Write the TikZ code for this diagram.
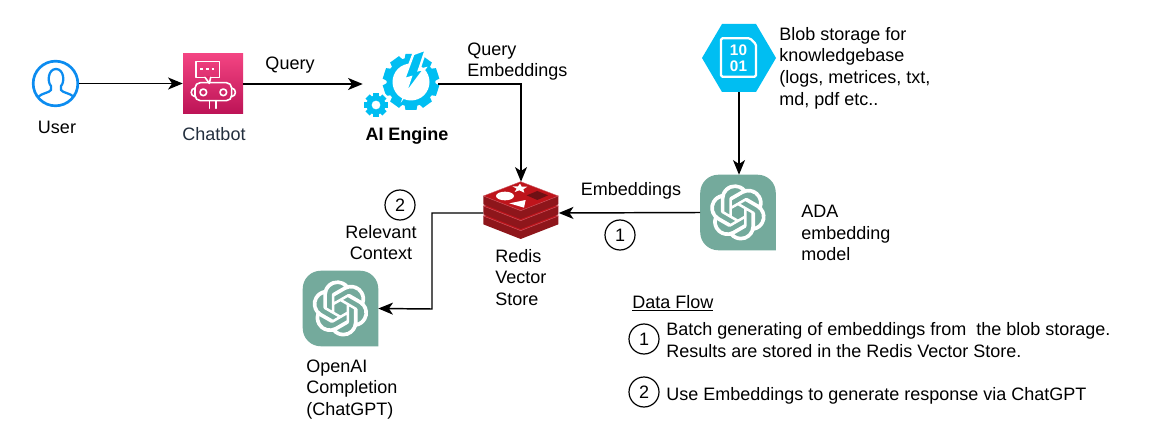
\documentclass[tikz,border=0pt]{standalone}
\usepackage{fontspec}
\setmainfont{Liberation Sans}
\usetikzlibrary{arrows.meta,calc,svg.path}
\definecolor{gptgreen}{HTML}{74AA9C}
\definecolor{azurecyan}{HTML}{00BEF2}
\definecolor{userblue}{HTML}{0C8CF0}
\definecolor{botlabel}{HTML}{232F3E}
\definecolor{redistop}{HTML}{BE141B}
\definecolor{redisside}{HTML}{8E161B}
\definecolor{redisline}{HTML}{D0606A}
\definecolor{redisdark}{HTML}{6E1014}
\definecolor{bottop}{HTML}{F34482}
\definecolor{botbottom}{HTML}{BC1356}
\definecolor{botmid}{HTML}{DC2869}
\tikzset{
  x=0.75pt,y=-0.75pt,
  txt/.style={font=\fontsize{13.5}{16.3}\selectfont,inner sep=0pt,align=left,text=black},
  conn/.style={draw=black,line width=1.1pt,-{Stealth[length=11pt,width=9pt,inset=3pt]}},
  numcircle/.style={circle,draw=black,line width=0.9pt,minimum size=22.5pt,inner sep=0pt,font=\fontsize{13.5}{14}\selectfont},
  iconbox/.style={inner sep=0pt,minimum width=#1*0.75pt,minimum height=#1*0.75pt},
  whitestroke/.style={draw=white,line width=1.2pt,line join=round,line cap=round},
}
\newcommand{\gptlogo}[3]{% box centre x, y, name
  \node[iconbox=75] (#3) at (#1,#2) {};
  \fill[gptgreen] (#3.south east) -- ($(#3.north east)+(0,18)$) arc[start angle=0,end angle=-90,radius=18] -- ($(#3.north west)+(18,0)$) arc[start angle=-90,end angle=-180,radius=18] -- ($(#3.south west)+(0,-18)$) arc[start angle=180,end angle=90,radius=18] -- cycle;
  \begin{scope}[shift={(#1,#2)},scale=1.755,yscale=-1,shift={(-12bp,-12bp)}]
    \fill[white,even odd rule] svg {M 22.2819 9.8211 a 5.9847 5.9847 0 0 0 -0.5157 -4.9108 a 6.0462 6.0462 0 0 0 -6.5098 -2.9 A 6.0651 6.0651 0 0 0 4.9807 4.1818 a 5.9847 5.9847 0 0 0 -3.9977 2.9 a 6.0462 6.0462 0 0 0 0.7427 7.0966 a 5.98 5.98 0 0 0 0.511 4.9107 a 6.051 6.051 0 0 0 6.5146 2.9001 A 5.9847 5.9847 0 0 0 13.2599 24 a 6.0557 6.0557 0 0 0 5.7718 -4.2058 a 5.9894 5.9894 0 0 0 3.9977 -2.9001 a 6.0557 6.0557 0 0 0 -0.7475 -7.0729 Z
    M 13.2599 22.4292 a 4.4755 4.4755 0 0 1 -2.8764 -1.0408 l 0.1419 -0.0804 l 4.7783 -2.7582 l 0.3927 -0.6813 v -6.7369 l 2.02 1.1686 l 0.038 0.052 v 5.5826 a 4.504 4.504 0 0 1 -4.4945 4.4944 Z
    M 3.5992 18.3038 a 4.4708 4.4708 0 0 1 -0.5346 -3.0137 l 0.142 0.0852 l 4.783 2.7582 l 0.7806 0 l 5.8428 -3.3685 v 2.3324 l -0.0332 0.0615 L 9.74 19.9502 a 4.4992 4.4992 0 0 1 -6.1408 -1.6464 Z
    M 2.3408 7.8956 a 4.485 4.485 0 0 1 2.3655 -1.9728 V 11.6 l 0.3879 0.6765 l 5.8144 3.3543 l -2.0201 1.1685 l -0.071 0 l -4.8303 -2.7865 A 4.504 4.504 0 0 1 2.3408 7.872 Z
    M 18.9371 11.7514 L 13.1038 8.364 L 15.1192 7.2 l 0.071 0 l 4.8303 2.7913 a 4.4944 4.4944 0 0 1 -0.6765 8.1042 v -5.6772 l -0.407 -0.667 Z
    M 20.9478 8.7283 l -0.142 -0.0852 l -4.7735 -2.7818 l -0.7854 0 L 9.409 9.2297 V 6.8974 l 0.0284 -0.0615 l 4.8303 -2.7866 a 4.4992 4.4992 0 0 1 6.6802 4.66 Z
    M 8.3065 12.863 l -2.02 -1.1638 l -0.038 -0.0567 V 6.0742 a 4.4992 4.4992 0 0 1 7.3757 -3.4537 l -0.142 0.0805 L 8.704 5.459 l -0.3927 0.6813 Z
    M 9.4041 10.4976 l 2.602 -1.4998 l 2.6069 1.4998 v 2.9994 l -2.5974 1.4997 l -2.6067 -1.4997 Z};
  \end{scope}
}
\begin{document}
\begin{tikzpicture}
\useasboundingbox (0,0) rectangle (1151,441);
\fill[white] (0,0) rectangle (1151,441);

% user
\node[circle,draw=userblue,line width=2pt,minimum size=33.5pt,inner sep=0pt] (user) at (55.5,83.5) {};
\draw[userblue,line width=1.7pt,line join=round]
  (38,97) .. controls (42,93) and (49,93) .. (51,90) -- (51,86)
  .. controls (47,82) and (48,69) .. (56,69) .. controls (64,69) and (65,82) .. (61,86)
  -- (61,90) .. controls (63,93) and (70,93) .. (74,97);

% chatbot
\node[iconbox=60] (chatbot) at (213,84) {};
\shade[top color=bottop,bottom color=botbottom] (183,54) rectangle (243,114);
\begin{scope}[shift={(170,40)},scale=1/3]
  \draw[whitestroke] (78,65) rectangle (148,112);
  \fill[botmid] (105,108) rectangle (122,116);
  \draw[whitestroke] (105,112) -- (118,130) -- (122,112);
  \draw[white,line width=1.2pt] (91,87) -- (99,87) (108,87) -- (116,87) (125,87) -- (133,87);
  \draw[whitestroke,rounded corners=4pt] (75,128) rectangle (185,182);
  \draw[whitestroke] (100,157) circle[radius=10] (160,157) circle[radius=10];
  \draw[whitestroke] (75,144) .. controls (60,146) and (60,168) .. (75,170);
  \draw[whitestroke] (185,144) .. controls (200,146) and (200,168) .. (185,170);
  \draw[whitestroke] (118,182) -- (118,205) (138,182) -- (138,205);
\end{scope}

% AI engine
\node[iconbox=75] (ai) at (400.5,84) {};
\foreach \a in {0,36,...,324}{
  \fill[azurecyan,rotate around={\a:(411,82)}] (405.5,54) -- (416.5,54) -- (418,62) -- (404,62) -- cycle;
}
\fill[azurecyan] (411,82) circle[radius=24.5];
\fill[white] (411,82) circle[radius=18.5];
\fill[white] (376,105) circle[radius=14.5];
\foreach \a in {0,45,...,315}{
  \fill[azurecyan,rotate around={\a:(376,105)}] (373,93) rectangle (379,98);
}
\fill[azurecyan,even odd rule] (376,105) circle[radius=9.5] (376,105) circle[radius=4.5];
\begin{scope}[shift={(350,40)},scale=1/3]
  \filldraw[fill=azurecyan,draw=white,line width=1.8pt,line join=miter]
    (190,42) -- (228,28) -- (207,90) -- (224,86) -- (163,168) -- (182,112) -- (162,118) -- cycle;
\end{scope}

% redis
\node[iconbox=75,minimum height=46.5pt] (redis) at (521,213) {};
\begin{scope}[shift={(470,170)},scale=1/3]
  \foreach \d in {60,30,0}{
    \fill[redisside] (40,{78+\d}) -- (40,{103+\d}) -- (152,{147+\d}) -- (265,{103+\d}) -- (265,{78+\d}) -- cycle;
    \filldraw[fill=redistop,draw=redisline,line width=0.3pt] (40,{78+\d}) -- (152,{122+\d}) -- (265,{78+\d}) -- (152,{35+\d}) -- cycle;
  }
  \fill[white] (105,78) ellipse[x radius=27,y radius=13];
  \fill[white] (118,100) -- (167,90) -- (162,113) -- cycle;
  \fill[white] (150,41) -- (155,50) -- (172,50) -- (160,58) -- (163,68) -- (148,61) -- (134,66) -- (140,56) -- (127,49) -- (144,49) -- cycle;
  \fill[redisdark] (170,76) -- (202,63) -- (234,76) -- (202,90) -- cycle;
\end{scope}

% blob
\node[iconbox=68] (blob) at (739,58) {};
\fill[azurecyan] (702,58) -- (722,24) -- (756,24) -- (776,58) -- (756,92) -- (722,92) -- cycle;
\begin{scope}[shift={(690,15)},scale=1/3]
  \draw[whitestroke,line width=1.7pt,rounded corners=1pt] (93,70) -- (93,185) -- (198,185) -- (198,88) -- (180,70) -- cycle;
\end{scope}
\node[inner sep=0pt,text=white,font=\bfseries\fontsize{11.5}{12}\selectfont,align=center] (blobbits) at (738.5,58.5) {10\\01};

% gpt boxes
\gptlogo{738}{212.5}{ada}
\gptlogo{340.5}{308.5}{gpt}

% connectors
\coordinate (elbow) at (432,309);
\draw[conn] (user.east) -- (user.east -| chatbot.west);
\draw[conn] (chatbot.east) -- (ai.west);
\draw[conn] (ai.east) -| (redis.north);
\draw[conn] (blob.south) -- (blob.south |- ada.north);
\draw[conn] (ada.west) -- (redis.east);
\draw[conn] (redis.west) -| (elbow) -- (gpt.east);

% labels
\node[txt] (userlbl) at (57,127) {User};
\node[txt,text=botlabel] (botlbl) at (214,134) {Chatbot};
\node[txt] (querylbl) at (290,65.5) {Query};
\node[txt,font=\bfseries\fontsize{13.5}{16.3}\selectfont] (ailbl) at (407,135.5) {AI Engine};
\node[txt,anchor=west] (qelbl) at (467,61.5) {Query\\Embeddings};
\node[txt,anchor=west] (bloblbl) at (779,68) {Blob storage for\\knowledgebase\\(logs, metrices, txt,\\md, pdf etc..};
\node[txt] (emblbl) at (631,190.5) {Embeddings};
\node[numcircle] (c1) at (620,235) {1};
\node[numcircle] (c2) at (400,205) {2};
\node[txt,align=center] (rclbl) at (381,242.5) {Relevant\\Context};
\node[txt,anchor=west] (redislbl) at (495,277.5) {Redis\\Vector\\Store};
\node[txt,anchor=west] (adalbl) at (801,233) {ADA\\embedding\\model};
\node[txt,anchor=west] (gptlbl) at (306,389.5) {OpenAI\\Completion\\(ChatGPT)};
\node[txt,anchor=west] (dflbl) at (632,303) {\underline{Data Flow}};
\node[numcircle] (l1) at (644,339) {1};
\node[txt,anchor=west] (l1txt) at (666,340) {Batch generating of embeddings from\ \ the blob storage.\\Results are stored in the Redis Vector Store.};
\node[numcircle] (l2) at (644,392) {2};
\node[txt,anchor=west] (l2txt) at (666,395.5) {Use Embeddings to generate response via ChatGPT};
\end{tikzpicture}
\end{document}
